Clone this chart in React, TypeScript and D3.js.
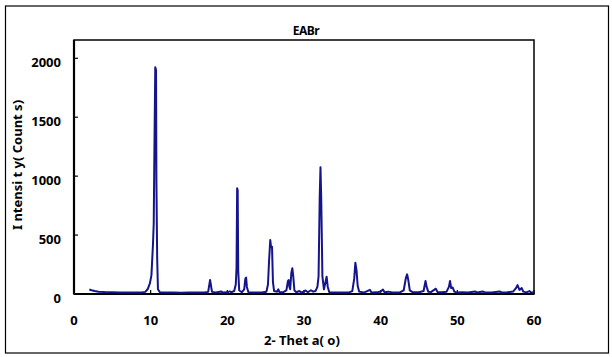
import React from "react";
import * as d3 from "d3";

const title = "EABr";
const xTitle = "2- Thet a( o)";
const yTitle = "I ntensi t y( Count s)";
const xTicks = [0, 10, 20, 30, 40, 50, 60];
const yTicks = [0, 500, 1000, 1500, 2000];

const twoTheta = [
  2.0, 2.3, 2.7, 3.2, 4.0, 5.0, 6.0, 7.0, 8.0, 8.8, 9.3, 9.6, 9.9, 10.1, 10.3, 10.4, 10.5, 10.6, 10.7, 10.75, 10.85, 10.95,
  11.2, 12, 13, 14, 15, 16, 17, 17.5, 17.65, 17.75, 17.85, 18.0, 18.5, 19.2, 19.4, 20.0, 20.3, 20.5, 20.9, 21.1, 21.2,
  21.28, 21.35, 21.42, 21.55, 21.9, 22.2, 22.35, 22.45, 22.55, 22.75, 23.5, 24.5, 25.1, 25.3, 25.45, 25.6, 25.7, 25.83,
  25.95, 26.1, 26.5, 26.65, 26.8, 27.3, 27.7, 27.9, 28.0, 28.1, 28.2, 28.35, 28.48, 28.6, 28.75, 29.0, 29.4, 29.7, 30.2,
  30.5, 30.9, 31.2, 31.5, 31.75, 31.9, 32.05, 32.15, 32.25, 32.4, 32.6, 32.8, 32.95, 33.1, 33.3, 34, 35, 35.8, 36.3,
  36.55, 36.7, 36.85, 37.0, 37.2, 37.8, 38.6, 38.8, 39.5, 40.0, 40.3, 40.5, 41.0, 41.5, 42.5, 43.0, 43.3, 43.45, 43.6,
  43.8, 44.2, 45.0, 45.6, 45.85, 46.0, 46.2, 46.6, 47.2, 47.4, 48.0, 48.6, 48.9, 49.05, 49.2, 49.4, 49.6, 50.0, 50.6,
  51.4, 52.3, 52.6, 53.3, 53.6, 54.5, 55.5, 55.8, 56.5, 57.3, 57.6, 57.85, 58.1, 58.4, 58.6, 59.0, 59.4, 59.6, 60.0,
];
const intensity = [
  38, 32, 25, 20, 16, 14, 12, 13, 12, 13, 18, 40, 90, 160, 420, 600, 1300, 1924, 1900, 950, 300, 40,
  15, 12, 12, 11, 12, 12, 12, 18, 80, 119, 80, 18, 13, 22, 12, 14, 22, 15, 25, 80, 220,
  897, 880, 200, 30, 15, 40, 130, 139, 60, 15, 12, 13, 20, 80, 290, 458, 400, 400,
  100, 25, 20, 40, 15, 15, 30, 110, 119, 60, 40, 180, 218, 150, 30, 15, 25, 12, 30,
  15, 32, 20, 25, 60, 150, 826, 1075, 800, 150, 40, 100, 147, 60, 15, 12, 13, 12, 25,
  130, 266, 200, 70, 20, 12, 35, 12, 14, 22, 38, 15, 20, 12, 13, 30, 140, 167, 120,
  30, 14, 15, 25, 110, 60, 20, 18, 45, 18, 15, 20, 60, 110, 50, 55, 20, 12, 14,
  13, 22, 13, 22, 13, 12, 22, 13, 14, 22, 45, 75, 35, 50, 20, 14, 25, 12, 15,
];

const W = 612;
const H = 357;
const font = "'Noto Sans', 'Open Sans', sans-serif";

export default function App() {
  const x = d3.scaleLinear().domain([0, 60]).range([74, 534]);
  const y = d3.scaleLinear().domain([0, 2000]).range([294, 58.3]);
  const top = 40;
  const data = twoTheta.map((t, i) => [t, intensity[i]] as [number, number]);
  const line = d3
    .line<[number, number]>()
    .x((d) => x(d[0]))
    .y((d) => y(d[1]));

  return (
    <svg
      width={W}
      height={H}
      style={{ position: "absolute", left: 0, top: 0 }}
    >
      <rect x={0} y={0} width={W} height={H} fill="#fff" />
      <rect x={5.5} y={6} width={603} height={347} fill="none" stroke="#000" strokeWidth={1.2} />
      <text x={306} y={32} textAnchor="middle" dominantBaseline="middle" fontFamily={font} fontWeight="bold" fontSize={12} letterSpacing={-0.5}>
        {title}
      </text>
      {/* plot frame */}
      <rect x={x(0)} y={top} width={x(60) - x(0)} height={y(0) - top} fill="none" stroke="#000" strokeWidth={1.5} />
      <line x1={x(0)} x2={x(0)} y1={top} y2={y(0)} stroke="#000" strokeWidth={2.2} />
      <line x1={x(0)} x2={x(60)} y1={y(0)} y2={y(0)} stroke="#000" strokeWidth={2.2} />
      {yTicks.map((v) => (
        <g key={"y" + v}>
          <line x1={x(0)} x2={x(0) + 4} y1={y(v)} y2={y(v)} stroke="#000" strokeWidth={1.2} />
          <text x={61} y={y(v) + 5} textAnchor="end" dominantBaseline="middle" fontFamily={font} fontWeight="bold" fontSize={13}>
            {v}
          </text>
        </g>
      ))}
      {xTicks.map((v) => (
        <g key={"x" + v}>
          <line x1={x(v)} x2={x(v)} y1={y(0)} y2={y(0) - 4} stroke="#000" strokeWidth={1.2} />
          <text x={x(v)} y={321} textAnchor="middle" dominantBaseline="middle" fontFamily={font} fontWeight="bold" fontSize={13}>
            {v}
          </text>
        </g>
      ))}
      <path d={line(data) || ""} fill="none" stroke="#14148c" strokeWidth={2} strokeLinejoin="round" />
      <text x={302} y={341} textAnchor="middle" dominantBaseline="middle" fontFamily={font} fontWeight="bold" fontSize={13}>
        {xTitle}
      </text>
      <text
        transform={`translate(18,165) rotate(-90)`}
        textAnchor="middle"
        dominantBaseline="middle"
        fontFamily={font}
        fontWeight="bold"
        fontSize={13}
      >
        {yTitle}
      </text>
    </svg>
  );
}
